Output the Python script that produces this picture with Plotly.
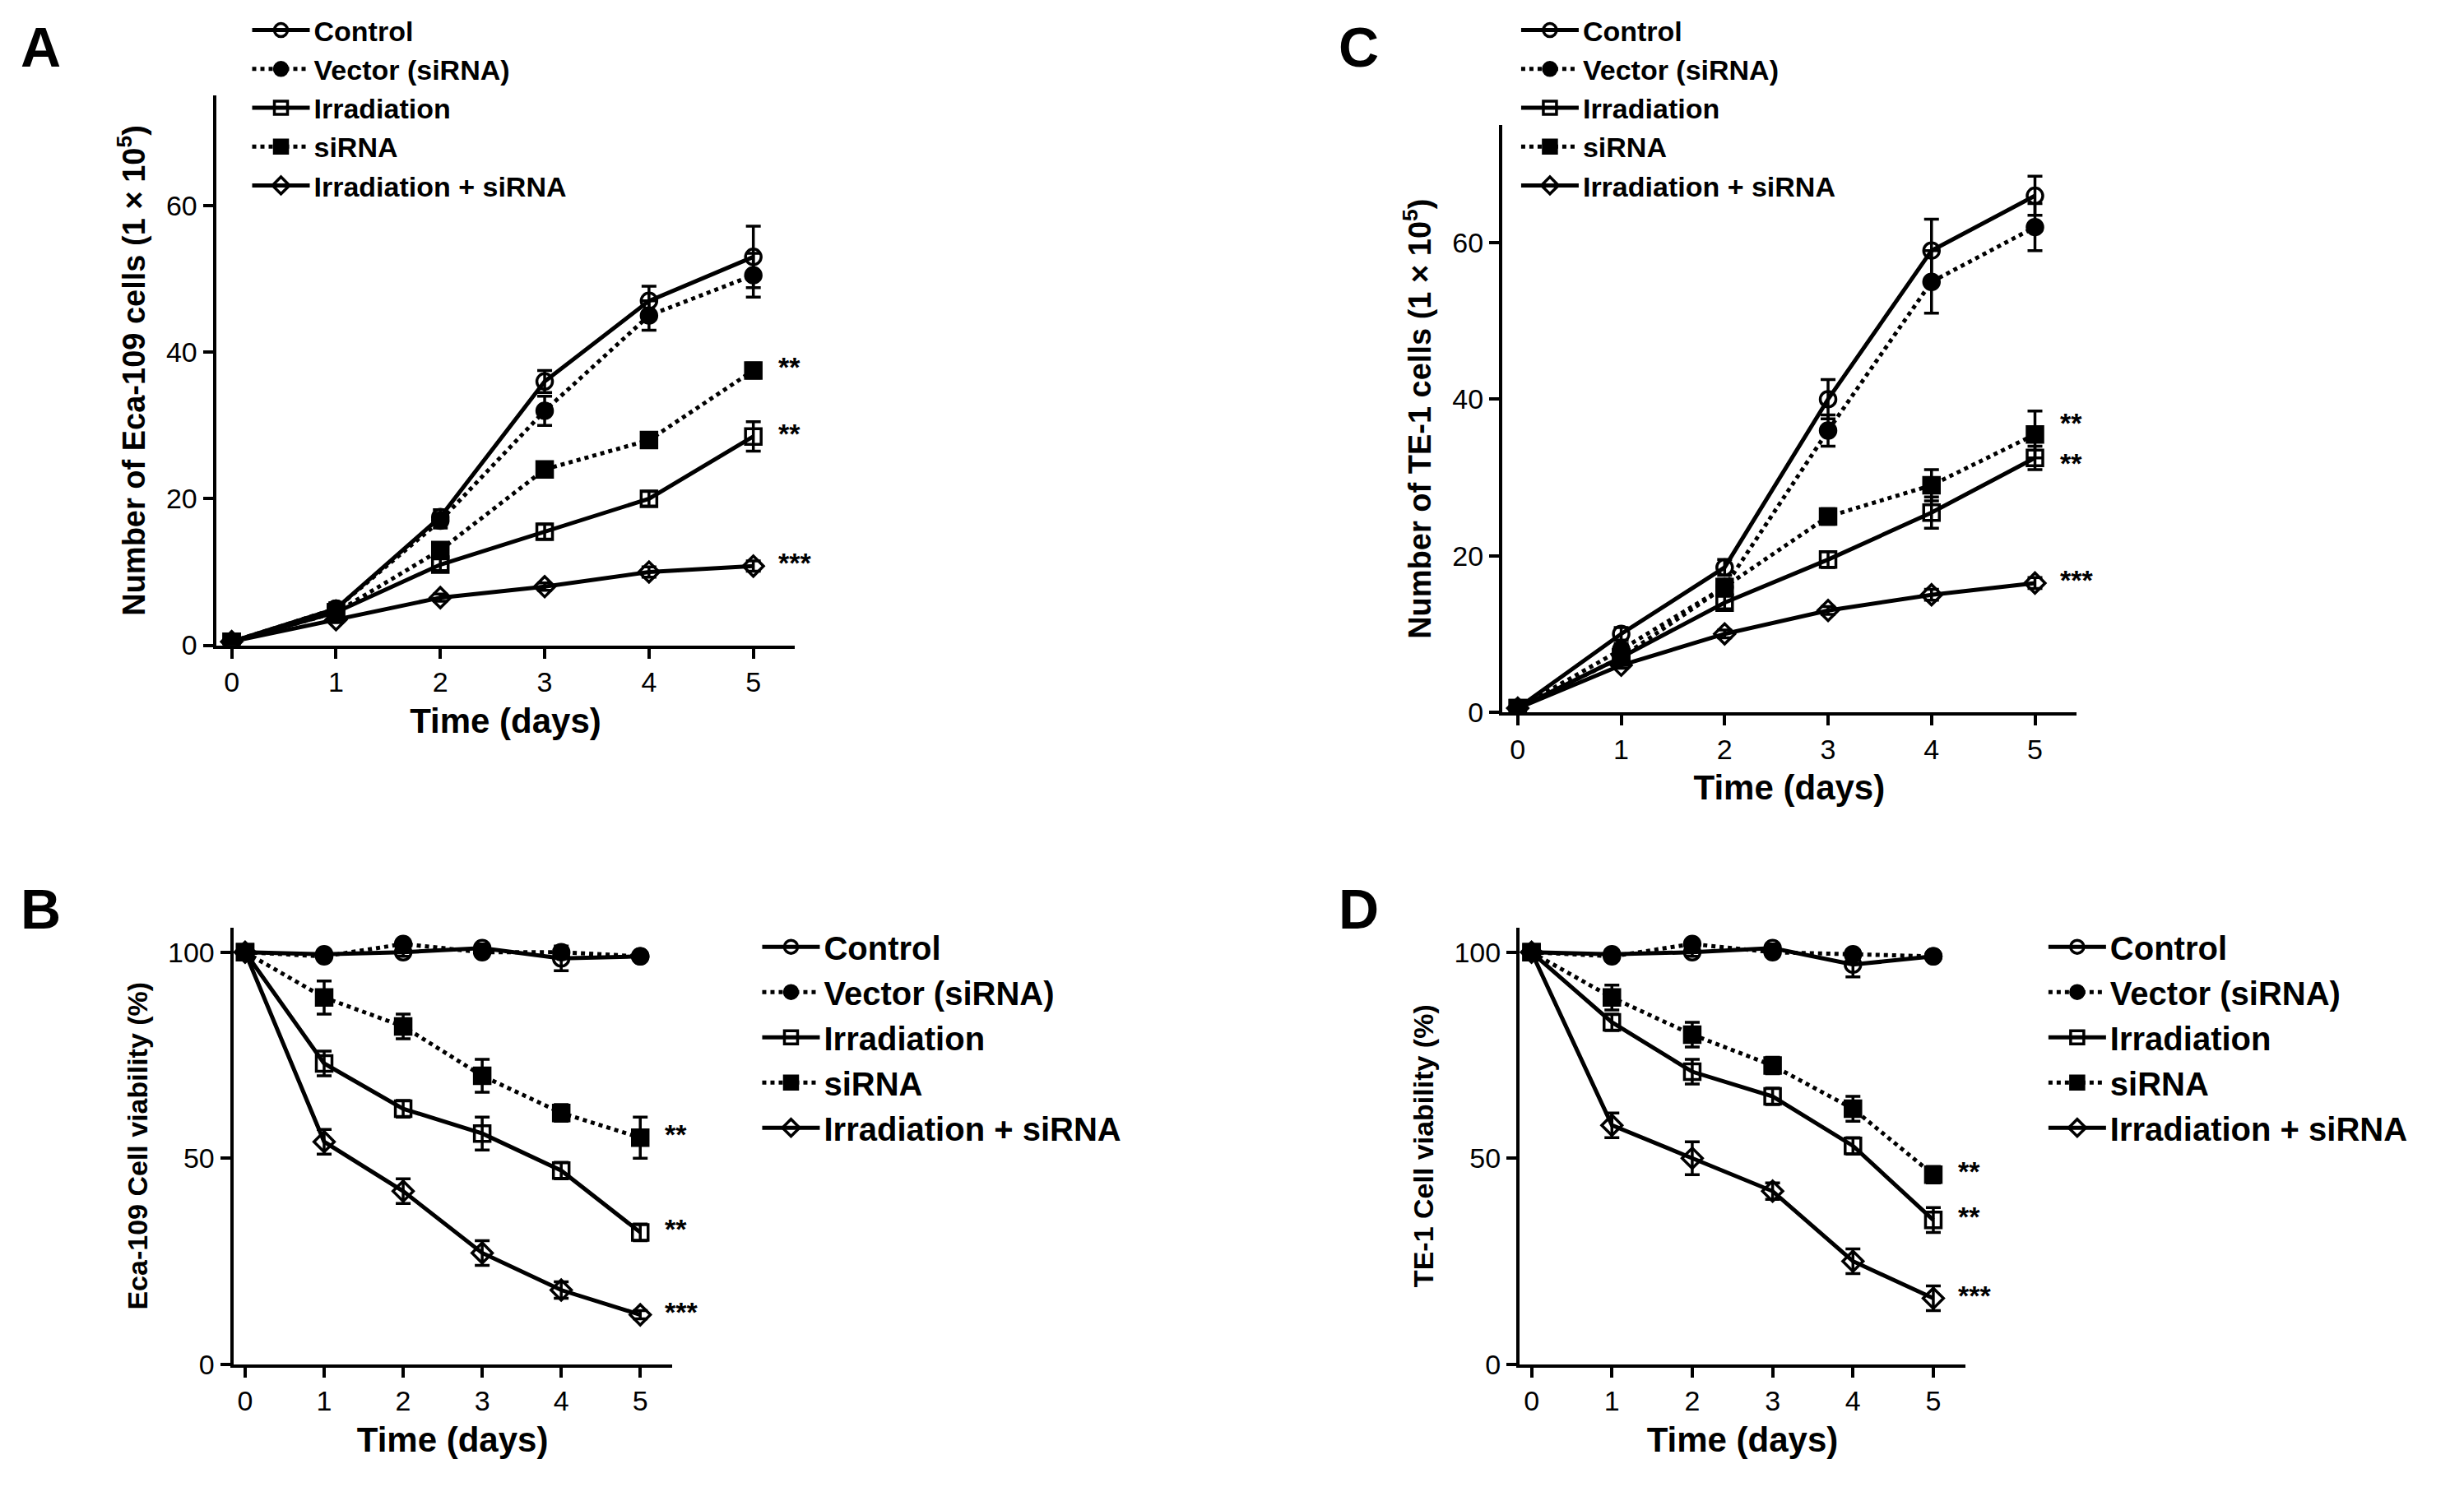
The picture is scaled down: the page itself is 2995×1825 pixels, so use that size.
import plotly.graph_objects as go

days = [0, 1, 2, 3, 4, 5]
names = ["Control", "Vector (siRNA)", "Irradiation", "siRNA", "Irradiation + siRNA"]

# panel A: Eca-109 cell counts
a_vals = [[0.5, 5, 17.5, 36, 47, 53],
          [0.5, 5, 17, 32, 45, 50.5],
          [0.5, 4.5, 11, 15.5, 20, 28.5],
          [0.5, 4.5, 13, 24, 28, 37.5],
          [0.5, 3.5, 6.5, 8, 10, 10.8]]
a_err = [[0.5, 0.8, 1, 1.5, 2, 4.2],
         [0.5, 0.8, 1, 2, 2, 3],
         [0.3, 0.5, 0.8, 1, 1, 2],
         [0.3, 0.5, 0.8, 0.8, 1, 1],
         [0.3, 0.4, 0.5, 0.5, 0.7, 0.7]]
# panel C: TE-1 cell counts
c_vals = [[0.5, 10, 18.5, 40, 59, 66],
          [0.5, 8, 16, 36, 55, 62],
          [0.5, 7, 14, 19.5, 25.5, 32.5],
          [0.5, 7, 16, 25, 29, 35.5],
          [0.5, 6, 10, 13, 15, 16.5]]
c_err = [[0.5, 0.8, 1, 2.5, 4, 2.5],
         [0.5, 0.8, 1, 2, 4, 3],
         [0.3, 0.5, 0.8, 1, 2, 1.5],
         [0.3, 0.5, 0.8, 1, 2, 3],
         [0.3, 0.4, 0.5, 0.5, 0.7, 0.7]]
# panel B: Eca-109 viability
b_vals = [[100, 99.5, 100, 101, 98.5, 99],
          [100, 99, 102, 100, 100, 99],
          [100, 73, 62, 56, 47, 32],
          [100, 89, 82, 70, 61, 55],
          [100, 54, 42, 27, 18, 12]]
b_err = [[1, 1, 1, 1, 3, 1],
         [1, 1, 1, 1, 1, 1],
         [1, 3, 2, 4, 2, 2],
         [1, 4, 3, 4, 2, 5],
         [1, 3, 3, 3, 2, 1]]
# panel D: TE-1 viability
d_vals = [[100, 99.5, 100, 101, 97, 99],
          [100, 99, 102, 100, 99.5, 99],
          [100, 83, 71, 65, 53, 35],
          [100, 89, 80, 72.5, 62, 46],
          [100, 58, 50, 42, 25, 16]]
d_err = [[1, 1, 1, 1, 3, 1],
         [1, 1, 1, 1, 1, 1],
         [1, 2, 3, 2, 2, 3],
         [1, 3, 3, 2, 3, 2],
         [1, 3, 4, 2, 3, 3]]

symbols = ["circle-open", "circle", "square-open", "square", "diamond-open"]
dashes = ["solid", "dot", "solid", "dot", "solid"]

FONT = "Liberation Sans, Arial, sans-serif"
fig = go.Figure()

panels = [
    ("x", "y", a_vals, a_err, "legend"),
    ("x2", "y2", c_vals, c_err, "legend2"),
    ("x3", "y3", b_vals, b_err, "legend3"),
    ("x4", "y4", d_vals, d_err, "legend4"),
]
for xa, ya, vals, errs, leg in panels:
    for i, name in enumerate(names):
        fig.add_trace(go.Scatter(
            x=days, y=vals[i], name="<b>" + name + "</b>", xaxis=xa, yaxis=ya, legend=leg,
            mode="lines+markers",
            line=dict(color="black", width=5, dash=dashes[i]),
            marker=dict(symbol=symbols[i], size=19, color="black",
                        line=dict(color="black", width=3.5)),
            error_y=dict(type="data", array=errs[i], color="black",
                         thickness=3.5, width=9),
        ))

axis_common = dict(showline=True, linecolor="black", linewidth=4, ticks="outside",
                   tickwidth=4, ticklen=12, tickcolor="black", showgrid=False,
                   zeroline=False, tickfont=dict(size=34, family=FONT, color="black"))
xcommon = dict(axis_common, range=[-0.15, 5.4], tickvals=days,
               title=dict(text="<b>Time (days)</b>", font=dict(size=42, family=FONT)))

fig.update_layout(
    width=2995, height=1825, plot_bgcolor="white", paper_bgcolor="white",
    margin=dict(l=0, r=0, t=0, b=0), showlegend=True,
    font=dict(family=FONT, color="black"),
    xaxis=dict(xcommon, domain=[0.085, 0.32], anchor="y"),
    yaxis=dict(axis_common, domain=[0.57, 0.94], range=[0, 75], tickvals=[0, 20, 40, 60],
               anchor="x",
               title=dict(text="<b>Number of Eca-109 cells (1 × 10<sup>5</sup>)</b>",
                          font=dict(size=38, family=FONT))),
    xaxis2=dict(xcommon, domain=[0.607, 0.84], anchor="y2"),
    yaxis2=dict(axis_common, domain=[0.525, 0.92], range=[0, 75], tickvals=[0, 20, 40, 60],
                anchor="x2",
                title=dict(text="<b>Number of TE-1 cells (1 × 10<sup>5</sup>)</b>",
                           font=dict(size=38, family=FONT))),
    xaxis3=dict(xcommon, domain=[0.092, 0.27], anchor="y3"),
    yaxis3=dict(axis_common, domain=[0.086, 0.38], range=[0, 106], tickvals=[0, 50, 100],
                anchor="x3",
                title=dict(text="<b>Eca-109 Cell viability (%)</b>",
                           font=dict(size=34, family=FONT))),
    xaxis4=dict(xcommon, domain=[0.614, 0.795], anchor="y4"),
    yaxis4=dict(axis_common, domain=[0.086, 0.38], range=[0, 106], tickvals=[0, 50, 100],
                anchor="x4",
                title=dict(text="<b>TE-1 Cell viability (%)</b>",
                           font=dict(size=34, family=FONT))),
)

leg_font_top = dict(size=34, family=FONT, color="black")
leg_font_bot = dict(size=40, family=FONT, color="black")
fig.update_layout(
    legend=dict(x=0.098, y=1.0, xanchor="left", yanchor="top", font=leg_font_top,
                bgcolor="rgba(0,0,0,0)", itemwidth=70),
    legend2=dict(x=0.613, y=1.0, xanchor="left", yanchor="top", font=leg_font_top,
                 bgcolor="rgba(0,0,0,0)", itemwidth=70),
    legend3=dict(x=0.305, y=0.385, xanchor="left", yanchor="top", font=leg_font_bot,
                 bgcolor="rgba(0,0,0,0)", itemwidth=70),
    legend4=dict(x=0.827, y=0.385, xanchor="left", yanchor="top", font=leg_font_bot,
                 bgcolor="rgba(0,0,0,0)", itemwidth=70),
)

# significance stars at day 5: (series index, text, vertical nudge)
stars = [("x", "y", a_vals, [(3, "**", 4), (2, "**", 4), (4, "***", 4)]),
         ("x2", "y2", c_vals, [(3, "**", 14), (2, "**", -6), (4, "***", 4)]),
         ("x3", "y3", b_vals, [(3, "**", 4), (2, "**", 4), (4, "***", 4)]),
         ("x4", "y4", d_vals, [(3, "**", 4), (2, "**", 4), (4, "***", 4)])]
for xa, ya, vals, marks in stars:
    for idx, txt, dy in marks:
        fig.add_annotation(x=5, y=vals[idx][5], xref=xa, yref=ya, text="<b>" + txt + "</b>",
                           showarrow=False, xanchor="left", xshift=28, yshift=dy,
                           font=dict(size=34, family=FONT, color="black"))

for letter, lx, ly in [("A", 0.005, 0.995), ("C", 0.54, 0.995), ("B", 0.005, 0.415), ("D", 0.54, 0.415)]:
    fig.add_annotation(x=lx, y=ly, xref="paper", yref="paper", text="<b>" + letter + "</b>",
                       showarrow=False, xanchor="left", yanchor="top",
                       font=dict(size=68, family=FONT, color="black"))

fig.write_html("out.html")
